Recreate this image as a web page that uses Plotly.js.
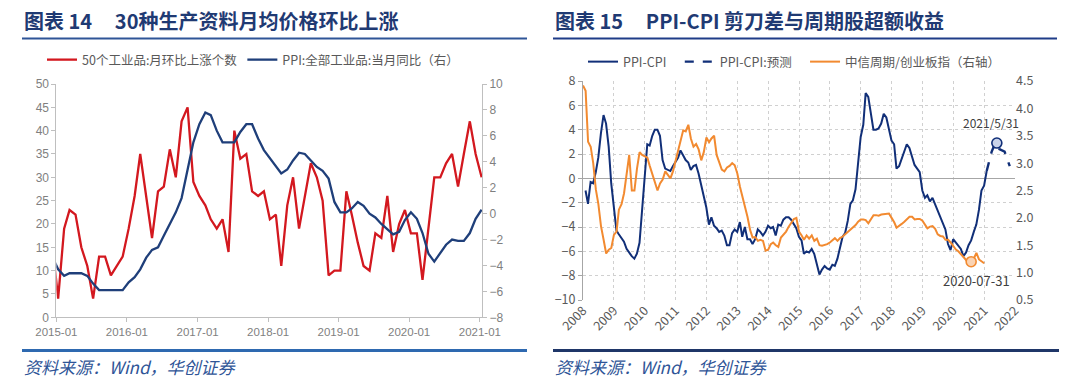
<!DOCTYPE html>
<html>
<head>
<meta charset="utf-8">
<script src="https://cdn.plot.ly/plotly-3.0.1.min.js"></script>
<style>html,body{margin:0;padding:0;background:#fff;}#chart{width:1080px;height:380px;}</style>
</head>
<body>
<div id="chart"></div>
<script>
// ---------- Left chart (图表14) : monthly, first value is 2014-12 (clipped at axis start) ----------
const leftStart = [2014, 12];
const redCount = [16,
  4,19,23,22,15,11,4,13,13,9,11,13,
  19,26,35,26,17,27,28,36,30,42,45,29,
  26,24,21,19,21,14,40,34,35,27,26,27,
  21,22,11,24,30,19,26,33,30,25,9,10,
  10,27,22,16,11,10,18,17,26,14,20,23,
  18,18,8,19,30,30,33,35,28,35,42,35,
  30];
const ppiYoY = [-3.3,
  -4.3,-4.8,-4.6,-4.6,-4.6,-4.8,-5.4,-5.9,-5.9,-5.9,-5.9,-5.9,
  -5.3,-4.9,-4.3,-3.4,-2.8,-2.6,-1.7,-0.8,0.1,1.2,3.3,5.5,
  6.9,7.8,7.6,6.4,5.5,5.5,5.5,6.3,6.9,6.9,5.8,4.9,
  4.3,3.7,3.1,3.4,4.1,4.7,4.6,4.1,3.6,3.3,2.7,0.9,
  0.1,0.1,0.4,0.9,0.6,0.0,-0.3,-0.8,-1.2,-1.6,-1.4,-0.5,
  0.1,-0.4,-1.5,-3.1,-3.7,-3.0,-2.4,-2.0,-2.1,-2.1,-1.5,-0.4,
  0.3];
const leftNames = ['50个工业品:月环比上涨个数', 'PPI:全部工业品:当月同比（右）'];

// ---------- Right chart (图表15) : monthly from 2008-01 ----------
const rightStart = [2008, 1];
const ppiCpi = [
  -1.0,-2.1,-0.3,-0.4,0.5,1.7,3.7,5.2,4.5,2.6,-0.4,-2.3,
  -4.3,-4.6,-4.9,-5.2,-5.8,-6.1,-6.4,-6.6,-6.2,-5.3,-2.7,-0.2,
  2.8,2.7,3.5,4.0,4.0,3.5,1.5,0.8,0.7,0.6,1.0,1.3,
  1.7,2.3,1.9,1.5,1.3,0.7,1.0,1.1,0.4,-0.5,-1.5,-2.4,
  -3.8,-3.2,-3.9,-4.1,-4.4,-4.3,-4.7,-5.5,-5.5,-4.5,-4.2,-4.4,
  -3.6,-4.8,-4.0,-5.0,-5.0,-5.4,-5.0,-4.2,-4.4,-4.7,-4.4,-3.9,
  -4.1,-4.0,-4.7,-3.8,-3.9,-3.4,-3.2,-3.2,-3.4,-3.8,-4.1,-4.8,
  -5.1,-6.2,-6.0,-6.1,-5.8,-6.2,-7.0,-7.9,-7.5,-7.2,-7.4,-7.5,
  -7.1,-7.2,-6.6,-5.7,-4.8,-4.5,-3.5,-2.1,-1.8,-0.9,1.0,3.4,
  4.4,7.0,6.7,5.2,4.0,4.0,4.1,4.5,5.3,5.0,4.1,3.1,
  2.8,0.8,1.0,1.6,2.3,2.8,2.5,1.8,1.1,0.8,0.5,-1.0,
  -1.6,-1.4,-1.9,-1.6,-2.1,-2.7,-3.1,-3.6,-4.2,-5.4,-5.9,-5.0,
  -5.3,-5.6,-5.8,-6.4,-6.1,-5.5,-5.1,-4.4,-3.8,-2.6,-1.0,-0.6,
  0.6];
const forecastStart = [2021, 1];
const ppiCpiForecast = [0.6,1.4,2.2,2.7,2.9,2.4,2.3,2.2,1.6,1.0];
const cycleRatio = [
  4.42,4.32,3.39,3.3,3.0,2.52,2.25,1.85,1.6,1.35,1.42,1.45,
  1.69,1.75,2.15,2.25,2.45,2.8,3.15,2.5,2.5,2.9,3.2,3.15,
  3.12,3.1,2.95,2.8,2.62,2.5,2.63,2.7,2.85,2.78,2.72,2.85,
  3.05,3.25,3.45,3.6,3.58,3.7,3.45,3.3,3.35,3.25,3.05,3.2,
  3.47,3.38,3.45,3.5,3.15,3.0,2.88,2.85,2.92,2.95,3.0,2.96,
  2.81,2.57,2.4,2.2,2.02,1.78,1.64,1.65,1.58,1.6,1.58,1.4,
  1.42,1.52,1.55,1.5,1.47,1.64,1.7,1.75,1.84,1.92,1.98,2.0,
  1.75,1.68,1.6,1.68,1.62,1.68,1.58,1.62,1.5,1.49,1.5,1.52,
  1.55,1.6,1.63,1.58,1.63,1.66,1.7,1.74,1.78,1.82,1.87,1.93,
  1.97,1.97,1.96,1.9,1.98,2.05,2.05,2.04,2.06,2.07,2.07,2.08,
  2.0,1.92,1.82,1.85,1.89,1.93,1.98,2.02,2.02,1.97,1.98,1.98,
  1.95,1.87,1.81,1.84,1.85,1.8,1.7,1.67,1.66,1.6,1.6,1.55,
  1.48,1.42,1.39,1.33,1.28,1.23,1.18,1.25,1.26,1.36,1.24,1.2,
  1.17];
const rightNames = ['PPI-CPI', 'PPI-CPI:预测', '中信周期/创业板指（右轴）'];
const markForecastDate = ['2021-05-31'];
const markForecastValue = [2.9];
const markForecastLabel = '2021/5/31';
const markRatioDate = ['2020-07-31'];
const markRatioValue = [1.2];
const markRatioLabel = '2020-07-31';

const SP = '\u00a0\u00a0\u00a0\u00a0\u00a0';
const titles = ['图表 14' + SP + '30种生产资料月均价格环比上涨', '图表 15' + SP + 'PPI-CPI 剪刀差与周期股超额收益'];
const sourceText = '资料来源：Wind，华创证券';

// ---------- helpers ----------
function monthDates(start, n, day) {
  const out = [];
  for (let i = 0; i < n; i++) {
    const idx = start[1] - 1 + i;
    const yy = start[0] + Math.floor(idx / 12);
    const mm = idx % 12 + 1;
    const d = day === 'end' ? new Date(Date.UTC(yy, mm, 0)).getUTCDate() : day;
    out.push(yy + '-' + String(mm).padStart(2, '0') + '-' + String(d).padStart(2, '0'));
  }
  return out;
}

const CJK = '"Noto Sans CJK SC", "Noto Sans", sans-serif';
const ARIAL = '"Liberation Sans", Arial, sans-serif';
const RED = '#D3181F', NAVY_L = '#1F3F7A', NAVY_R = '#112F78', ORANGE = '#F28A30';
const W = 1080, H = 380;
const px = v => v / W, py = v => 1 - v / H;

const leftX = monthDates(leftStart, redCount.length, 10);
const rightX = monthDates(rightStart, ppiCpi.length, 'end');
const fcX = monthDates(forecastStart, ppiCpiForecast.length, 'end');
const ratioX = monthDates(rightStart, cycleRatio.length, 1);

const traces = [
  {x: leftX, y: redCount, name: leftNames[0], type: 'scatter', mode: 'lines',
   line: {color: RED, width: 2.3}, xaxis: 'x', yaxis: 'y', legend: 'legend'},
  {x: leftX, y: ppiYoY, name: leftNames[1], type: 'scatter', mode: 'lines',
   line: {color: NAVY_L, width: 2.3}, xaxis: 'x', yaxis: 'y2', legend: 'legend'},
  {x: rightX, y: ppiCpi, name: rightNames[0] + '\u00a0\u00a0\u00a0', type: 'scatter', mode: 'lines',
   line: {color: NAVY_R, width: 2}, xaxis: 'x3', yaxis: 'y3', legend: 'legend2'},
  {x: fcX, y: ppiCpiForecast, name: rightNames[1] + '\u00a0\u00a0\u00a0', type: 'scatter', mode: 'lines',
   line: {color: NAVY_R, width: 2.4, dash: 'dash'}, xaxis: 'x3', yaxis: 'y3', legend: 'legend2'},
  {x: ratioX, y: cycleRatio, name: rightNames[2], type: 'scatter', mode: 'lines',
   line: {color: ORANGE, width: 2}, xaxis: 'x3', yaxis: 'y4', legend: 'legend2'},
  {x: markForecastDate, y: markForecastValue, type: 'scatter', mode: 'markers', showlegend: false,
   marker: {size: 10, color: '#C9D3EA', line: {color: NAVY_R, width: 1.6}}, xaxis: 'x3', yaxis: 'y3'},
  {x: markRatioDate, y: markRatioValue, type: 'scatter', mode: 'markers', showlegend: false,
   marker: {size: 10, color: '#FAD3B3', line: {color: ORANGE, width: 1.6}}, xaxis: 'x3', yaxis: 'y4'}
];

const grayTick = {family: ARIAL, size: 12, color: '#7F7F7F'};
const rTick = {family: CJK, size: 12.5, color: '#595959'};

const layout = {
  width: W, height: H, margin: {l: 0, r: 0, t: 0, b: 0},
  paper_bgcolor: '#ffffff', plot_bgcolor: 'rgba(0,0,0,0)', showlegend: true,
  xaxis: {domain: [px(56.4), px(482)], type: 'date', range: ['2015-01-01', '2021-01-12'],
    tick0: '2015-01-01', dtick: 'M12', tickformat: '%Y-%m', ticks: 'outside', ticklen: 4,
    tickcolor: '#BFBFBF', showline: true, linecolor: '#BFBFBF', linewidth: 1, showgrid: false,
    zeroline: false, tickfont: {family: ARIAL, size: 11.5, color: '#7F7F7F'}, anchor: 'y', fixedrange: true},
  yaxis: {domain: [py(317.3), py(84)], range: [0, 50], dtick: 5, ticks: 'outside', ticklen: 4,
    tickcolor: '#BFBFBF', showline: true, linecolor: '#BFBFBF', showgrid: false, zeroline: false,
    tickfont: grayTick, anchor: 'x', fixedrange: true},
  yaxis2: {overlaying: 'y', side: 'right', anchor: 'x', range: [-8, 10], dtick: 2, ticks: 'outside',
    ticklen: 4, tickcolor: '#BFBFBF', showline: true, linecolor: '#BFBFBF', showgrid: false,
    zeroline: false, tickfont: grayTick, fixedrange: true},
  xaxis3: {domain: [px(583), px(1015)], type: 'date', range: ['2008-01-01', '2022-01-01'],
    tick0: '2008-01-01', dtick: 'M12', tickformat: '%Y', tickangle: -45, showgrid: true,
    gridcolor: '#D0D0D0', griddash: 'dot', gridwidth: 1, showline: false, zeroline: false,
    ticks: '', tickfont: rTick, anchor: 'y3', fixedrange: true},
  yaxis3: {domain: [py(300), py(81)], range: [-10, 8], dtick: 2, showgrid: true, gridcolor: '#D0D0D0',
    griddash: 'dot', zeroline: true, zerolinecolor: '#A6A6A6', zerolinewidth: 1, showline: true,
    linecolor: '#A6A6A6', ticks: 'outside', ticklen: 4, tickcolor: '#A6A6A6', tickfont: rTick,
    anchor: 'x3', fixedrange: true},
  yaxis4: {overlaying: 'y3', side: 'right', anchor: 'x3', range: [0.5, 4.5], dtick: 0.5,
    tickformat: '.1f', showgrid: false, zeroline: false, showline: false, tickfont: rTick, fixedrange: true},
  legend: {orientation: 'h', x: px(42), y: py(60), xanchor: 'left', yanchor: 'middle',
    font: {family: CJK, size: 12.5, color: '#595959'}, bgcolor: 'rgba(0,0,0,0)', itemwidth: 30,
    tracegroupgap: 0},
  legend2: {orientation: 'h', x: px(583), y: py(62), xanchor: 'left', yanchor: 'middle',
    font: {family: CJK, size: 12.5, color: '#595959'}, bgcolor: 'rgba(0,0,0,0)', itemwidth: 30,
    tracegroupgap: 0},
  shapes: [
    {type: 'line', xref: 'paper', yref: 'paper', x0: px(22), x1: px(527), y0: py(38.5), y1: py(38.5),
     line: {color: '#2F5597', width: 2}},
    {type: 'line', xref: 'paper', yref: 'paper', x0: px(553), x1: px(1057), y0: py(38.5), y1: py(38.5),
     line: {color: '#1F3C88', width: 2}},
    {type: 'line', xref: 'paper', yref: 'paper', x0: px(22), x1: px(527), y0: py(350.5), y1: py(350.5),
     line: {color: '#2E69B0', width: 3}},
    {type: 'line', xref: 'paper', yref: 'paper', x0: px(553), x1: px(1059), y0: py(350.5), y1: py(350.5),
     line: {color: '#1F3668', width: 3}}
  ],
  annotations: [
    {text: '<b>' + titles[0] + '</b>', xref: 'paper', yref: 'paper', x: px(22), y: py(21),
     xanchor: 'left', yanchor: 'middle', showarrow: false, font: {family: CJK, size: 20, color: '#1F3A73'}},
    {text: '<b>' + titles[1] + '</b>', xref: 'paper', yref: 'paper', x: px(553), y: py(21),
     xanchor: 'left', yanchor: 'middle', showarrow: false, font: {family: CJK, size: 20, color: '#1F3A73'}},
    {text: '<i>' + sourceText + '</i>', xref: 'paper', yref: 'paper', x: px(22), y: py(366),
     xanchor: 'left', yanchor: 'middle', showarrow: false, font: {family: CJK, size: 17, color: '#2F5597'}},
    {text: '<i>' + sourceText + '</i>', xref: 'paper', yref: 'paper', x: px(553), y: py(366),
     xanchor: 'left', yanchor: 'middle', showarrow: false, font: {family: CJK, size: 17, color: '#2F5597'}},
    {text: markForecastLabel, xref: 'x3', yref: 'y3', x: markForecastDate[0], y: markForecastValue[0],
     showarrow: false, yshift: 21, xshift: -6, font: {family: CJK, size: 12, color: '#404040'}},
    {text: markRatioLabel, xref: 'x3', yref: 'y4', x: markRatioDate[0], y: markRatioValue[0],
     showarrow: false, yshift: -19, xshift: 5, font: {family: CJK, size: 13, color: '#404040'}}
  ]
};

Plotly.newPlot('chart', traces, layout, {displayModeBar: false, staticPlot: true});
</script>
</body>
</html>
